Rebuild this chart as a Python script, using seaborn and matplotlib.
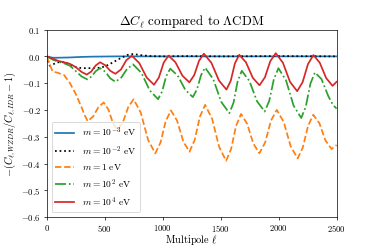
import numpy as np
import pandas as pd
import matplotlib
matplotlib.use('Agg')
import matplotlib.pyplot as plt
import seaborn as sns

plt.rcParams.update({
    'font.family': 'serif',
    'font.serif': ['cmr10'],
    'mathtext.fontset': 'cm',
    'axes.formatter.use_mathtext': True,
    'font.size': 10,
})

# values (multipole, -(C_WZDR/C_IDR - 1))
ell_blue = [0, 50, 100, 200, 300, 400, 600, 1000, 1500, 2000, 2500]
val_blue = [0.0, -0.005, -0.005, -0.004, -0.002, -0.001, 0.0, 0.0, 0.0, 0.0, 0.0]

ell_black = [0, 25, 50, 100, 150, 200, 250, 300, 400, 470, 530, 580, 640, 700,
             750, 800, 900, 1000, 1200, 1500, 2000, 2500]
val_black = [0.0, -0.035, -0.03, -0.022, -0.022, -0.03, -0.04, -0.044, -0.044,
             -0.042, -0.032, -0.02, -0.006, 0.006, 0.009, 0.005, 0.001, 0.0,
             0.001, 0.0, 0.001, 0.0]

ell_orange = [0, 25, 50, 100, 150, 200, 250, 300, 325, 353, 399, 445, 491, 531,
              571, 611, 657, 703, 749, 811, 874, 936, 981, 1026, 1071, 1124,
              1178, 1231, 1276, 1321, 1366, 1426, 1487, 1547, 1590, 1633, 1676,
              1729, 1781, 1834, 1884, 1934, 1984, 2044, 2104, 2164, 2209, 2254,
              2299, 2352, 2404, 2457, 2500]
val_orange = [0.0, -0.03, -0.056, -0.062, -0.07, -0.1, -0.14, -0.19, -0.218,
              -0.242, -0.225, -0.19, -0.172, -0.198, -0.249, -0.275, -0.246,
              -0.189, -0.16, -0.21, -0.312, -0.362, -0.322, -0.242, -0.202,
              -0.24, -0.318, -0.356, -0.312, -0.225, -0.181, -0.233, -0.338,
              -0.39, -0.346, -0.259, -0.215, -0.252, -0.325, -0.362, -0.321,
              -0.24, -0.2, -0.245, -0.336, -0.381, -0.34, -0.259, -0.218,
              -0.25, -0.314, -0.346, -0.331]

ell_green = [0, 50, 100, 150, 200, 250, 300, 350, 387, 423, 460, 504, 548, 592,
             643, 694, 745, 817, 888, 960, 995, 1030, 1065, 1130, 1195, 1260,
             1295, 1331, 1366, 1436, 1505, 1575, 1611, 1646, 1682, 1748, 1814,
             1880, 1919, 1959, 1998, 2064, 2129, 2195, 2234, 2274, 2313, 2370,
             2430, 2470, 2500]
val_green = [0.0, -0.012, -0.02, -0.026, -0.035, -0.055, -0.075, -0.086, -0.075,
             -0.055, -0.044, -0.057, -0.082, -0.095, -0.079, -0.046, -0.03,
             -0.062, -0.127, -0.16, -0.131, -0.074, -0.046, -0.072, -0.125,
             -0.152, -0.124, -0.07, -0.042, -0.085, -0.17, -0.212, -0.173,
             -0.094, -0.054, -0.092, -0.168, -0.206, -0.166, -0.085, -0.044,
             -0.09, -0.184, -0.23, -0.188, -0.102, -0.06, -0.085, -0.15,
             -0.182, -0.195]

ell_red = [0, 50, 100, 150, 200, 250, 300, 345, 383, 422, 460, 504, 548, 592,
           640, 687, 735, 798, 862, 925, 967, 1008, 1050, 1110, 1170, 1230,
           1272, 1313, 1355, 1420, 1485, 1550, 1587, 1623, 1660, 1718, 1777,
           1835, 1882, 1928, 1975, 2037, 2098, 2160, 2207, 2253, 2300, 2355,
           2410, 2465, 2500]
val_red = [0.0, -0.008, -0.017, -0.022, -0.028, -0.04, -0.058, -0.068, -0.057,
           -0.034, -0.022, -0.033, -0.054, -0.065, -0.049, -0.014, 0.002,
           -0.025, -0.079, -0.106, -0.079, -0.024, 0.003, -0.022, -0.072,
           -0.097, -0.07, -0.017, 0.01, -0.024, -0.09, -0.124, -0.091, -0.026,
           0.006, -0.022, -0.08, -0.108, -0.078, -0.018, 0.012, -0.024, -0.095,
           -0.13, -0.096, -0.029, 0.005, -0.024, -0.081, -0.11, -0.095]

series = [
    (r'$m=10^{-3}$ eV', ell_blue, val_blue, '#1f77b4', '-'),
    (r'$m=10^{-2}$ eV', ell_black, val_black, 'black', ':'),
    (r'$m=1$ eV', ell_orange, val_orange, '#ff7f0e', '--'),
    (r'$m=10^{2}$ eV', ell_green, val_green, '#2ca02c', '-.'),
    (r'$m=10^{4}$ eV', ell_red, val_red, '#d62728', '-'),
]

dpi = 374 / 6.0
fig, ax = plt.subplots(figsize=(6, 4), dpi=dpi)
fig.subplots_adjust(left=0.125, right=0.9, top=0.88, bottom=0.128)

for label, ell, val, color, ls in series:
    df = pd.DataFrame({'ell': ell, 'val': val})
    sns.lineplot(data=df, x='ell', y='val', ax=ax, color=color, linestyle=ls,
                 linewidth=2, label=label)

ax.set_xlim(0, 2500)
ax.set_ylim(-0.6, 0.1)
ax.set_xticks(np.arange(0, 2501, 500))
ax.set_yticks(np.arange(-0.6, 0.11, 0.1))
ax.set_title(r'$\Delta C_\ell$ compared to $\Lambda$CDM', fontsize=15)
ax.set_xlabel(r'Multipole $\ell$', fontsize=12, labelpad=-2)
ax.set_ylabel(r'$-(C_{\ell,WZDR}/C_{\ell,IDR}-1)$', fontsize=12)
ax.legend(loc='lower left', fontsize=11)

fig.savefig('out.png', dpi=dpi)
